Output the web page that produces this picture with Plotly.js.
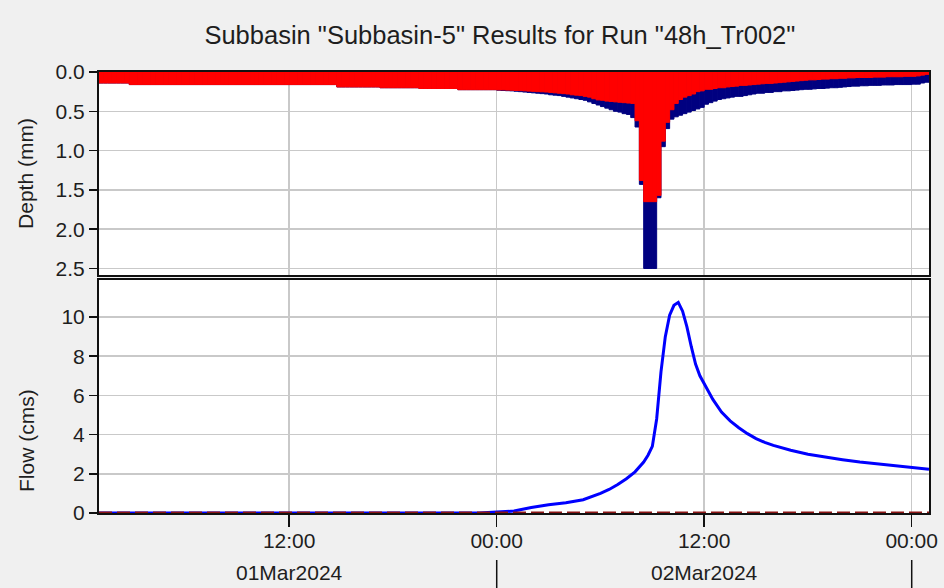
<!DOCTYPE html>
<html>
<head>
<meta charset="utf-8">
<script src="https://cdn.plot.ly/plotly-3.0.1.min.js"></script>
<style>
  html, body { margin: 0; padding: 0; background: #f0f0f0; }
  #chart { width: 944px; height: 588px; }
</style>
</head>
<body>
<div id="chart"></div>
<script>
// Subbasin-5 results, run 48h_Tr002: 15-minute precipitation and loss depths,
// plus outflow and baseflow hydrographs.

const runStart = "2024-03-01T01:00:00Z";   // first interval start
const stepMinutes = 15;                     // depth interval length

// Precipitation depth per 15-min interval (mm)
const precipDepth = [
  0.14, 0.14, 0.14, 0.14, 0.14, 0.14, 0.14,
  0.16, 0.16, 0.16, 0.16, 0.16, 0.16, 0.16, 0.16, 0.16, 0.16, 0.16, 0.16,
  0.16, 0.16, 0.16, 0.16, 0.16, 0.16, 0.16, 0.16, 0.16, 0.16, 0.16, 0.16,
  0.16, 0.16, 0.16, 0.16, 0.16, 0.16, 0.16, 0.16, 0.16, 0.16, 0.16, 0.16,
  0.16, 0.16, 0.16, 0.16, 0.16, 0.16, 0.16, 0.16, 0.16, 0.16, 0.16, 0.16,
  0.19, 0.19, 0.19, 0.19, 0.19, 0.19, 0.19, 0.19, 0.19, 0.19,
  0.20, 0.20, 0.20, 0.20, 0.20, 0.20, 0.20, 0.20, 0.20,
  0.21, 0.21, 0.21, 0.21, 0.21, 0.21, 0.21, 0.21, 0.21,
  0.225, 0.225, 0.225, 0.225, 0.225, 0.225, 0.225, 0.225, 0.225,
  0.232, 0.235, 0.238, 0.24, 0.245, 0.25, 0.255, 0.26, 0.265, 0.27,
  0.275, 0.28, 0.29, 0.295, 0.30, 0.31, 0.32, 0.33, 0.34, 0.35,
  0.36, 0.38, 0.40, 0.42, 0.44, 0.46, 0.48, 0.50, 0.51, 0.53,
  0.54, 0.58, 0.70, 1.43, 2.5, 2.5, 2.5, 1.6, 0.95, 0.72,
  0.60, 0.57, 0.55,
  0.53, 0.51, 0.49, 0.47, 0.45, 0.41, 0.39, 0.37, 0.35, 0.34,
  0.33, 0.32, 0.31, 0.31, 0.30, 0.29, 0.28, 0.27, 0.27, 0.26,
  0.26, 0.25, 0.25, 0.24, 0.24, 0.235, 0.23, 0.225, 0.22, 0.22,
  0.215, 0.21, 0.21, 0.205, 0.20, 0.20, 0.195, 0.19, 0.185, 0.18,
  0.18, 0.175, 0.175, 0.17, 0.17, 0.17, 0.165, 0.165, 0.165, 0.16,
  0.16, 0.16, 0.16, 0.155, 0.155, 0.14, 0.13
];

// Loss depth per 15-min interval (mm)
const lossDepth = [
  0.14, 0.14, 0.14, 0.14, 0.14, 0.14, 0.14,
  0.16, 0.16, 0.16, 0.16, 0.16, 0.16, 0.16, 0.16, 0.16, 0.16, 0.16, 0.16,
  0.16, 0.16, 0.16, 0.16, 0.16, 0.16, 0.16, 0.16, 0.16, 0.16, 0.16, 0.16,
  0.16, 0.16, 0.16, 0.16, 0.16, 0.16, 0.16, 0.16, 0.16, 0.16, 0.16, 0.16,
  0.16, 0.16, 0.16, 0.16, 0.16, 0.16, 0.16, 0.16, 0.16, 0.16, 0.16, 0.16,
  0.19, 0.19, 0.19, 0.19, 0.19, 0.19, 0.19, 0.19, 0.19, 0.19,
  0.20, 0.20, 0.20, 0.20, 0.20, 0.20, 0.20, 0.20, 0.20,
  0.21, 0.21, 0.21, 0.21, 0.21, 0.21, 0.21, 0.21, 0.21,
  0.225, 0.225, 0.225, 0.225, 0.225, 0.225, 0.225, 0.225, 0.225,
  0.228, 0.228, 0.23, 0.232, 0.235, 0.237, 0.24, 0.243, 0.246, 0.25,
  0.252, 0.255, 0.26, 0.265, 0.27, 0.275, 0.28, 0.29, 0.295, 0.30,
  0.31, 0.32, 0.34, 0.355, 0.36, 0.37, 0.375, 0.38, 0.385, 0.39,
  0.395, 0.40, 0.62, 1.38, 1.65, 1.65, 1.65, 1.57, 0.88, 0.64,
  0.48, 0.40, 0.35,
  0.32, 0.30, 0.28, 0.25, 0.24, 0.22, 0.22, 0.21, 0.20, 0.20,
  0.19, 0.185, 0.18, 0.17, 0.17, 0.165, 0.16, 0.155, 0.15, 0.145,
  0.145, 0.14, 0.135, 0.13, 0.125, 0.12, 0.115, 0.11, 0.105, 0.10,
  0.10, 0.095, 0.09, 0.09, 0.085, 0.085, 0.08, 0.08, 0.075, 0.075,
  0.07, 0.07, 0.07, 0.07, 0.065, 0.065, 0.065, 0.06, 0.06, 0.06,
  0.06, 0.055, 0.055, 0.055, 0.05, 0.04, 0.03
];

// Outflow hydrograph (cms)
const flowTimes = [
  "2024-03-01 01:00", "2024-03-01 23:00", "2024-03-02 00:00", "2024-03-02 01:00",
  "2024-03-02 02:00", "2024-03-02 03:00", "2024-03-02 04:00", "2024-03-02 05:00",
  "2024-03-02 06:00", "2024-03-02 06:30", "2024-03-02 07:00", "2024-03-02 07:30",
  "2024-03-02 08:00", "2024-03-02 08:30", "2024-03-02 08:45", "2024-03-02 09:00",
  "2024-03-02 09:15", "2024-03-02 09:30", "2024-03-02 09:45", "2024-03-02 10:00",
  "2024-03-02 10:15", "2024-03-02 10:30", "2024-03-02 10:45", "2024-03-02 11:00",
  "2024-03-02 11:15", "2024-03-02 11:30", "2024-03-02 11:45", "2024-03-02 12:00",
  "2024-03-02 12:30", "2024-03-02 13:00", "2024-03-02 13:30", "2024-03-02 14:00",
  "2024-03-02 14:30", "2024-03-02 15:00", "2024-03-02 15:30", "2024-03-02 16:00",
  "2024-03-02 17:00", "2024-03-02 18:00", "2024-03-02 19:00", "2024-03-02 20:00",
  "2024-03-02 21:00", "2024-03-02 22:00", "2024-03-02 23:00", "2024-03-03 00:00",
  "2024-03-03 01:00"
];
const flowValues = [
  0, 0, 0.05, 0.1,
  0.28, 0.42, 0.52, 0.68,
  1.0, 1.2, 1.45, 1.75,
  2.1, 2.6, 2.95, 3.4,
  4.8, 7.2, 9.0, 10.1,
  10.6, 10.75, 10.3, 9.5,
  8.5, 7.6, 7.0, 6.6,
  5.8, 5.15, 4.7, 4.35,
  4.05, 3.8, 3.6, 3.45,
  3.2, 3.0, 2.85, 2.72,
  2.6, 2.5, 2.42, 2.33,
  2.23
];

// Baseflow (cms)
const baseflowTimes = ["2024-03-01 01:00", "2024-03-03 01:00"];
const baseflowValues = [0, 0];

// Axis labels
const timeTickVals = ["2024-03-01 12:00", "2024-03-02 00:00", "2024-03-02 12:00", "2024-03-03 00:00"];
const timeTickText = ["12:00", "00:00", "12:00", "00:00"];
const dayLabels = ["01Mar2024", "02Mar2024"];
const dayCenters = ["2024-03-01 12:00", "2024-03-02 12:00"];
const dayBoundaries = ["2024-03-02 00:00", "2024-03-03 00:00"];
const depthTicks = [0, 0.5, 1.0, 1.5, 2.0, 2.5];
const flowTicks = [0, 2, 4, 6, 8, 10];

// Interval start times for the depth bars
function fmt(d) {
  const p = n => String(n).padStart(2, "0");
  return d.getUTCFullYear() + "-" + p(d.getUTCMonth() + 1) + "-" + p(d.getUTCDate()) +
         " " + p(d.getUTCHours()) + ":" + p(d.getUTCMinutes());
}
const t0 = new Date(runStart).getTime();
const stepMs = stepMinutes * 60000;
const intervalStarts = precipDepth.map((_, i) => fmt(new Date(t0 + i * stepMs)));

const FONT = "Liberation Sans, Arial, sans-serif";
const INK = "#1e1e1e";
const GRID = "#c9c9c9";
const NAVY = "#000080";
const RED = "#ff0000";

const traces = [
  {
    type: "bar", x: intervalStarts, y: precipDepth,
    xaxis: "x2", yaxis: "y2", width: stepMs, offset: 0,
    marker: { color: NAVY, line: { color: NAVY, width: 1 } },
    hoverinfo: "skip", showlegend: false
  },
  {
    type: "bar", x: intervalStarts, y: lossDepth,
    xaxis: "x2", yaxis: "y2", width: stepMs, offset: 0,
    marker: { color: RED, line: { color: RED, width: 1 } },
    hoverinfo: "skip", showlegend: false
  },
  {
    type: "scatter", mode: "lines", x: flowTimes, y: flowValues,
    xaxis: "x", yaxis: "y",
    line: { color: "#0000ff", width: 3 },
    hoverinfo: "skip", showlegend: false
  },
  {
    type: "scatter", mode: "lines", x: baseflowTimes, y: baseflowValues,
    xaxis: "x", yaxis: "y",
    line: { color: "#8b1414", width: 3, dash: "13px,5px" },
    hoverinfo: "skip", showlegend: false
  }
];

const xRange = ["2024-03-01 01:00", "2024-03-03 01:00"];
const axisCommon = {
  showline: true, mirror: true, linecolor: "#111", linewidth: 2,
  showgrid: true, gridcolor: GRID, gridwidth: 1.5, zeroline: false,
  tickfont: { family: FONT, size: 21, color: INK }
};

const layout = {
  width: 944, height: 588,
  paper_bgcolor: "#f0f0f0", plot_bgcolor: "#ffffff",
  margin: { l: 99, r: 15, t: 72, b: 75 },
  barmode: "overlay",
  showlegend: false,
  title: {
    text: 'Subbasin "Subbasin-5" Results for Run "48h_Tr002"',
    font: { family: FONT, size: 25.5, color: INK },
    xref: "paper", x: 0.483, xanchor: "center",
    yref: "container", y: 0.94, yanchor: "middle"
  },
  xaxis: Object.assign({}, axisCommon, {
    type: "date", range: xRange, anchor: "y",
    tickvals: timeTickVals, ticktext: timeTickText,
    ticks: "outside", ticklen: 12, tickwidth: 1.5, tickcolor: "#111",
    ticklabelstandoff: -4
  }),
  xaxis2: Object.assign({}, axisCommon, {
    type: "date", range: xRange, anchor: "y2", matches: "x",
    tickvals: timeTickVals, showticklabels: false, ticks: ""
  }),
  yaxis: Object.assign({}, axisCommon, {
    domain: [0, 0.5283], range: [0, 11.89], anchor: "x",
    tickvals: flowTicks, ticks: "outside", ticklen: 8, tickwidth: 1.5, tickcolor: "#111"
  }),
  yaxis2: Object.assign({}, axisCommon, {
    domain: [0.5397, 1], range: [2.583, 0], anchor: "x2",
    tickvals: depthTicks, tickformat: ".1f",
    ticks: "outside", ticklen: 8, tickwidth: 1.5, tickcolor: "#111"
  }),
  annotations: [
    {
      text: "Depth (mm)", textangle: -90, showarrow: false,
      xref: "paper", yref: "paper", x: -0.088, y: 0.771,
      xanchor: "center", yanchor: "middle",
      font: { family: FONT, size: 21, color: INK }
    },
    {
      text: "Flow (cms)", textangle: -90, showarrow: false,
      xref: "paper", yref: "paper", x: -0.088, y: 0.1655,
      xanchor: "center", yanchor: "middle",
      font: { family: FONT, size: 21, color: INK }
    }
  ].concat(dayLabels.map((lab, k) => ({
    text: lab, showarrow: false,
    xref: "x", yref: "paper", x: dayCenters[k], y: -0.136,
    xanchor: "center", yanchor: "middle",
    font: { family: FONT, size: 21, color: INK }
  }))),
  shapes: dayBoundaries.map(d => ({
    type: "line", xref: "x", yref: "paper",
    x0: d, x1: d, y0: -0.1066, y1: -0.175,
    line: { color: "#111", width: 1.5 }
  }))
};

Plotly.newPlot("chart", traces, layout, { staticPlot: true, displayModeBar: false });
</script>
</body>
</html>
